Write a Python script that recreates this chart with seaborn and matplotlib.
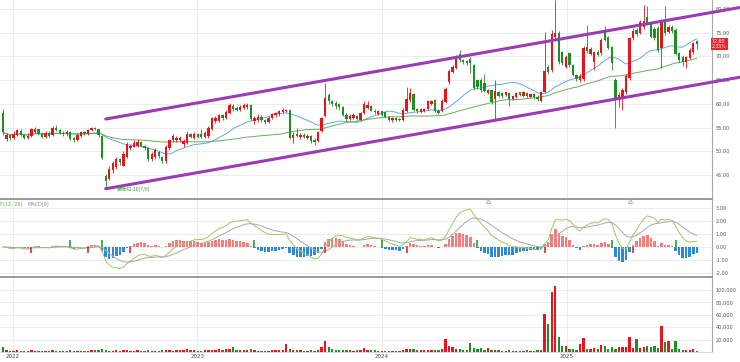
import matplotlib
matplotlib.use("Agg")
import matplotlib.pyplot as plt
import matplotlib.dates as mdates
import matplotlib.ticker as mticker
import matplotlib.transforms as mtransforms
import numpy as np
import pandas as pd
import seaborn as sns

# weekly candles, first week starts Monday 2021-12-13
first_week = "2021-12-13"

opens = [
    58.0, 52.6, 53.4, 52.8, 53.4, 54.2, 53.4, 52.9, 53.2, 54.0,
    54.6, 53.6, 53.0, 53.9, 53.4, 55.0, 54.4, 53.8, 53.6, 54.0,
    52.8, 52.4, 53.3, 54.0, 53.6, 54.4, 55.0, 54.7, 53.2, 44.8,
    44.2, 46.0, 46.6, 48.3, 47.0, 48.8, 50.6, 51.0, 51.2, 51.9,
    51.2, 50.6, 48.4, 48.8, 49.8, 48.8, 47.9, 50.6, 52.4, 52.3,
    52.4, 51.5, 51.8, 53.6, 52.8, 53.6, 53.6, 53.0, 53.2, 54.8,
    56.4, 56.4, 57.6, 57.0, 58.0, 59.6, 59.2, 58.8, 59.2, 59.3,
    59.8, 56.4, 56.6, 57.3, 56.6, 56.2, 57.0, 57.6, 57.8, 58.2,
    58.4, 58.8, 52.8, 53.6, 53.0, 53.4, 52.9, 53.2, 52.4, 52.2,
    54.2, 57.4, 61.9, 60.6, 60.2, 59.9, 59.3, 57.7, 56.8, 57.0,
    57.4, 56.6, 58.0, 59.2, 59.6, 58.6, 57.8, 58.4, 58.2, 57.2,
    56.5, 57.0, 56.8, 56.6, 58.4, 60.8, 62.0, 58.9, 58.3, 58.4,
    59.0, 60.0, 60.8, 58.6, 58.4, 60.4, 64.6, 66.8, 67.6, 70.6,
    69.2, 69.0, 69.4, 68.2, 65.0, 65.0, 64.4, 62.3, 62.9, 61.0,
    62.5, 62.2, 61.8, 62.2, 61.0, 61.4, 62.4, 61.7, 62.2, 61.5,
    62.0, 61.5, 60.6, 62.4, 67.8, 67.2, 74.0, 74.9, 70.9, 67.8,
    70.7, 68.2, 66.1, 65.0, 65.2, 71.9, 70.6, 68.8, 70.9, 70.7,
    75.2, 74.1, 72.0, 65.0, 61.2, 61.0, 62.4, 65.4, 73.8, 75.6,
    75.0, 76.2, 78.3, 77.0, 75.8, 76.0, 71.8, 77.7, 75.2, 76.2,
    75.6, 70.7, 69.9, 68.8, 69.7, 70.9, 73.2,
]
closes = [
    54.0, 53.4, 52.8, 53.6, 54.4, 53.4, 52.9, 53.3, 54.6, 54.8,
    53.6, 53.1, 53.9, 53.3, 55.0, 54.4, 53.8, 53.6, 54.0, 52.6,
    52.4, 53.4, 54.0, 53.6, 54.4, 54.9, 54.7, 53.4, 48.6, 43.8,
    46.3, 47.6, 48.3, 47.8, 49.5, 51.6, 51.2, 51.8, 51.9, 51.2,
    50.6, 48.4, 49.4, 50.3, 49.0, 48.0, 51.0, 52.4, 53.2, 52.9,
    52.8, 52.2, 53.6, 53.0, 53.6, 53.0, 53.0, 53.8, 55.0, 57.0,
    57.0, 57.6, 57.0, 58.3, 59.8, 59.0, 58.8, 59.4, 59.8, 59.8,
    56.8, 57.0, 57.3, 56.6, 56.2, 57.1, 57.8, 58.0, 58.4, 58.8,
    58.8, 52.8, 53.4, 53.2, 53.4, 53.0, 53.3, 52.2, 52.0, 54.0,
    57.0, 61.2, 60.6, 60.0, 59.6, 59.3, 57.7, 56.8, 57.4, 57.6,
    56.8, 58.1, 60.0, 59.8, 58.6, 58.2, 58.4, 57.7, 57.2, 56.6,
    57.0, 56.7, 56.6, 58.8, 61.0, 62.2, 58.8, 58.5, 58.9, 58.9,
    60.5, 60.6, 58.4, 58.0, 60.6, 63.2, 67.0, 67.8, 70.0, 69.2,
    68.8, 68.6, 68.6, 63.3, 63.6, 63.0, 62.8, 62.9, 60.4, 62.7,
    61.7, 61.6, 62.4, 61.0, 61.6, 62.3, 61.8, 62.4, 61.6, 62.0,
    61.4, 61.0, 62.4, 67.0, 66.8, 74.8, 74.9, 68.8, 68.6, 69.9,
    68.2, 66.1, 65.2, 65.8, 71.8, 71.2, 71.6, 70.9, 70.4, 73.5,
    73.5, 71.8, 68.6, 61.2, 61.9, 63.0, 65.9, 73.8, 75.4, 74.8,
    77.2, 77.4, 77.0, 74.1, 73.8, 71.4, 77.4, 75.0, 76.2, 75.4,
    70.6, 69.2, 68.8, 69.8, 71.4, 72.8, 72.6,
]
highs = [
    59.0, 53.8, 53.6, 54.2, 54.8, 54.6, 53.6, 53.8, 55.0, 55.2,
    54.8, 54.0, 54.2, 54.2, 55.4, 55.6, 54.8, 54.2, 54.4, 54.2,
    53.0, 53.8, 54.3, 54.3, 54.7, 55.1, 55.2, 54.8, 53.4, 45.2,
    46.8, 48.0, 48.8, 48.6, 50.0, 51.9, 51.6, 52.3, 52.6, 52.2,
    51.4, 50.8, 49.8, 50.6, 50.0, 49.0, 51.4, 52.6, 53.6, 53.3,
    53.2, 52.6, 54.3, 53.8, 54.0, 53.8, 54.6, 54.2, 55.4, 57.3,
    57.4, 57.9, 57.9, 58.8, 60.2, 60.0, 59.5, 59.7, 60.1, 60.1,
    60.0, 57.4, 57.8, 57.6, 56.9, 57.5, 58.1, 58.3, 58.7, 59.1,
    59.0, 59.0, 54.0, 55.0, 53.8, 53.8, 53.6, 53.4, 52.8, 54.3,
    57.3, 64.4, 62.3, 60.9, 60.5, 60.2, 59.5, 58.0, 57.8, 58.0,
    57.6, 58.3, 60.5, 60.6, 59.8, 58.9, 58.8, 58.6, 58.4, 57.4,
    57.3, 57.2, 57.0, 59.2, 63.6, 63.4, 62.3, 59.2, 59.2, 59.2,
    60.8, 60.9, 61.0, 59.0, 61.0, 63.6, 67.4, 68.2, 70.4, 71.4,
    69.5, 69.3, 69.8, 68.4, 65.3, 65.4, 66.4, 63.2, 63.0, 65.0,
    62.8, 62.5, 62.6, 62.4, 61.9, 62.6, 62.6, 62.8, 62.4, 62.3,
    62.2, 61.8, 62.8, 75.2, 68.2, 75.5, 82.0, 75.4, 71.2, 70.4,
    71.0, 68.5, 66.4, 66.2, 72.2, 76.6, 71.9, 71.2, 71.3, 73.8,
    76.4, 74.4, 72.3, 65.4, 62.4, 63.4, 66.2, 74.2, 76.0, 76.0,
    77.6, 80.8, 80.6, 77.3, 76.2, 76.4, 77.8, 80.6, 76.6, 76.6,
    76.0, 71.0, 70.2, 70.1, 71.7, 73.1, 73.5,
]
lows = [
    53.5, 52.2, 52.4, 52.6, 53.2, 53.2, 52.6, 52.6, 53.0, 53.8,
    53.4, 52.8, 52.8, 53.1, 53.2, 54.2, 53.6, 53.3, 53.3, 52.3,
    52.0, 52.2, 53.1, 53.4, 53.5, 54.2, 54.5, 53.0, 48.4, 42.1,
    44.0, 45.5, 46.3, 47.2, 46.8, 48.6, 50.2, 50.8, 51.0, 50.9,
    50.2, 48.0, 48.0, 48.4, 48.6, 47.6, 47.6, 50.2, 52.0, 52.0,
    52.0, 51.0, 51.6, 52.7, 52.6, 52.8, 52.8, 52.8, 52.8, 54.5,
    56.0, 56.2, 56.7, 56.8, 57.8, 58.6, 58.4, 58.5, 59.0, 59.0,
    56.5, 55.8, 56.2, 56.2, 55.8, 56.0, 56.8, 57.3, 57.5, 58.0,
    58.2, 52.6, 51.8, 53.0, 52.6, 52.8, 52.6, 51.8, 51.4, 52.0,
    54.0, 57.2, 60.0, 59.6, 59.0, 58.8, 57.4, 56.4, 56.5, 56.8,
    56.5, 56.3, 57.8, 59.0, 58.4, 57.8, 57.6, 57.4, 57.0, 56.3,
    56.2, 56.4, 56.4, 56.4, 58.2, 60.4, 58.5, 58.0, 58.0, 58.2,
    58.8, 59.8, 58.2, 57.8, 58.2, 60.2, 64.2, 66.5, 67.3, 68.9,
    68.3, 68.2, 66.5, 63.0, 63.2, 62.6, 62.4, 62.0, 60.0, 56.6,
    61.4, 61.3, 61.6, 59.6, 60.8, 61.2, 61.6, 61.5, 61.3, 61.3,
    61.0, 60.6, 60.3, 62.2, 66.3, 66.8, 73.5, 68.4, 68.2, 67.5,
    67.8, 65.8, 64.8, 64.6, 64.8, 70.8, 70.3, 67.1, 70.0, 70.4,
    73.2, 71.5, 67.1, 54.9, 59.3, 58.8, 62.0, 65.0, 73.5, 74.3,
    74.8, 75.8, 76.6, 73.8, 73.4, 71.0, 67.6, 74.6, 74.9, 75.0,
    70.2, 68.8, 68.0, 67.6, 69.4, 70.5, 71.6,
]
# volume in thousands of shares
vol_k = [
    8.0, 2.5, 2.0, 2.2, 2.8, 2.4, 2.0, 1.8, 2.6, 2.2,
    2.0, 1.8, 2.4, 2.0, 2.8, 2.2, 2.0, 1.8, 2.2, 2.6,
    2.0, 2.4, 2.2, 2.0, 2.4, 2.6, 3.0, 3.8, 4.2, 3.0,
    2.4, 2.2, 2.6, 2.0, 2.8, 3.2, 2.4, 2.2, 2.6, 2.0,
    2.2, 2.8, 2.4, 2.0, 1.8, 3.4, 3.0, 2.8, 2.4, 2.6,
    3.0, 3.6, 5.4, 3.0, 2.6, 2.2, 2.4, 3.2, 4.0, 3.6,
    3.0, 4.2, 3.4, 4.4, 5.0, 7.6, 4.0, 3.0, 2.6, 2.8,
    4.2, 3.0, 2.4, 2.2, 2.0, 2.4, 2.6, 2.8, 3.0, 3.4,
    12.5, 4.6, 4.0, 3.4, 3.0, 2.4, 2.2, 2.6, 2.4, 3.6,
    8.0, 17.0, 8.6, 4.4, 4.0, 3.4, 3.0, 3.2, 2.6, 2.4,
    2.8, 3.6, 6.6, 3.6, 3.0, 2.6, 2.4, 2.2, 2.0, 2.2,
    2.4, 2.0, 1.8, 4.0, 5.6, 4.6, 4.2, 3.6, 3.4, 3.0,
    3.2, 3.8, 3.4, 3.0, 4.2, 21.5, 9.8, 8.0, 5.6, 4.6,
    4.0, 3.6, 14.6, 6.0, 4.4, 6.5, 3.6, 7.0, 3.6, 4.0,
    2.6, 2.4, 2.2, 2.8, 2.0, 2.4, 2.2, 2.0, 2.6, 2.4,
    2.2, 3.0, 4.0, 60.7, 45.5, 96.5, 105.7, 24.4, 9.8, 9.6,
    5.4, 4.4, 4.0, 13.5, 23.3, 5.4, 5.0, 6.0, 5.4, 10.8,
    9.8, 5.4, 8.0, 5.4, 8.0, 8.4, 8.0, 24.4, 6.0, 20.6,
    6.6, 8.0, 9.6, 8.0, 9.0, 6.4, 41.7, 16.3, 17.9, 5.4,
    17.9, 5.4, 4.0, 3.6, 3.0, 5.4, 2.0,
]

# trend channel drawn on the chart
chan_dates = ["2022-07-04", "2025-12-08"]
chan_upper = [56.8, 80.3]
chan_lower = [42.1, 65.6]
low_note = "最低42.10(7/8)"
last_price = "72.60"
last_change = "2.35%"
marker_dates = ["2024-07-29", "2025-05-05"]

n = len(closes)
for name, arr in [("opens", opens), ("highs", highs), ("lows", lows), ("vol", vol_k)]:
    if len(arr) != n:
        raise SystemExit(f"{name} has {len(arr)} values, closes has {n}")

df = pd.DataFrame({
    "date": pd.date_range(first_week, periods=n, freq="W-MON"),
    "open": opens, "high": highs, "low": lows, "close": closes,
})
df["volume"] = np.array(vol_k) * 1000
df["ma20"] = df["close"].rolling(20, min_periods=1).mean()
df["ma52"] = df["close"].rolling(52, min_periods=1).mean()
ema12 = df["close"].ewm(span=12, adjust=False).mean()
ema26 = df["close"].ewm(span=26, adjust=False).mean()
df["dif"] = ema12 - ema26
df["dea"] = df["dif"].ewm(span=9, adjust=False).mean()
df["hist"] = df["dif"] - df["dea"]

RED = "#e8141c"
GREEN = "#1f8f23"
PURPLE = "#9a3cb4"
GRID = "#e9e9e9"
AXIS = "#a8a8a8"

sns.set_theme(style="white")
plt.rcParams["font.family"] = ["DejaVu Sans", "Noto Sans CJK SC"]

fig = plt.figure(figsize=(7.4, 3.62), dpi=100)
W = 712 / 740
H = 362
ax = fig.add_axes([0, 1 - 199 / H, W, 199 / H])
ax_m = fig.add_axes([0, 1 - 276 / H, W, 77 / H], sharex=ax)
ax_v = fig.add_axes([0, 1 - 352 / H, W, 75 / H], sharex=ax)

up = df["close"] >= df["open"]
colors = np.where(up, RED, GREEN)

# candles
ax.vlines(df["date"], df["low"], df["high"], colors=colors, lw=0.6, zorder=3)
body = (df["close"] - df["open"]).abs().clip(lower=0.15)
ax.bar(df["date"], body, bottom=np.minimum(df["open"], df["close"]),
       width=4.6, color=colors, linewidth=0, zorder=4)

sns.lineplot(data=df, x="date", y="ma20", ax=ax, color="#62a9e2", lw=0.7, zorder=2)
sns.lineplot(data=df, x="date", y="ma52", ax=ax, color="#67ae5c", lw=0.7, zorder=2)

cd = pd.to_datetime(chan_dates)
ax.plot(cd, chan_upper, color=PURPLE, lw=2.2, clip_on=False, zorder=5)
ax.plot(cd, chan_lower, color=PURPLE, lw=2.2, clip_on=False, zorder=5)

ax.text(pd.Timestamp("2022-07-25"), 42.05, low_note, color="#3a9a3a", fontsize=3.6,
        va="center", ha="left", family=["Noto Sans CJK SC", "DejaVu Sans"], zorder=6)

trans = mtransforms.blended_transform_factory(ax.transAxes, ax.transData)
ax.text(1.0, 72.6, last_price + "\n" + last_change, transform=trans, fontsize=3.3,
        color="white", va="center", ha="left", linespacing=1.1,
        bbox=dict(boxstyle="square,pad=0.2", fc="#e8262b", ec="none"), clip_on=False)

ax.set_ylim(39.94, 81.9)
ax.set_yticks(np.arange(45, 81, 5))
ax.yaxis.set_major_formatter(mticker.FormatStrFormatter("%.2f"))

# MACD
hist_colors = np.where(df["hist"] >= 0, "#f47e7e", "#2e8ad8")
ax_m.bar(df["date"], df["hist"], width=5.0, color=hist_colors, linewidth=0, zorder=2)
sns.lineplot(data=df, x="date", y="dif", ax=ax_m, color="#9dc95f", lw=0.7, zorder=3)
sns.lineplot(data=df, x="date", y="dea", ax=ax_m, color="#a9a9a9", lw=0.7, zorder=3)

# mark only the crosses that hold for a few weeks on both sides
sign = np.sign(df["hist"].values)
golden, death = [], []
for i in range(3, n - 2):
    before = sign[i - 3:i]
    after = sign[i:i + 3]
    if (before < 0).all() and (after > 0).all():
        golden.append(df["date"].iloc[i])
    elif (before > 0).all() and (after < 0).all():
        death.append(df["date"].iloc[i])
ax_m.vlines(golden, -0.5, 0, color=RED, lw=1.1, zorder=4)
ax_m.vlines(death, 0, 0.5, color=GREEN, lw=1.1, zorder=4)

ax_m.plot(pd.to_datetime(marker_dates), [3.55, 3.55], marker="^", ls="none", ms=3,
          mfc="none", mec="#7fb8e0", mew=0.6, clip_on=False, zorder=6)
ax_m.set_ylim(-2.26, 3.7)
ax_m.set_yticks(np.arange(-2, 3.1, 1))
ax_m.yaxis.set_major_formatter(mticker.FormatStrFormatter("%.2f"))
fig.text(0.0, 1 - 204.5 / H, "F(12, 26)", color="#6aa84f", fontsize=3.6, va="center")
fig.text(27 / 740, 1 - 204.5 / H, "MACD(9)", color="#8a8a8a", fontsize=3.6, va="center")

# volume
ax_v.bar(df["date"], df["volume"], width=4.6, color=colors, linewidth=0, zorder=2)
ax_v.set_ylim(0, 121000)
ax_v.set_yticks(np.arange(20000, 100001, 20000))
ax_v.yaxis.set_major_formatter(mticker.StrMethodFormatter("{x:,.0f}"))

ax.set_xlim(pd.Timestamp("2021-12-07"), pd.Timestamp("2025-10-15"))
ax_v.xaxis.set_major_locator(mdates.YearLocator())
ax_v.xaxis.set_major_formatter(mdates.DateFormatter("%Y"))

for a in (ax, ax_m, ax_v):
    a.set_xlabel("")
    a.set_ylabel("")
    a.yaxis.tick_right()
    a.tick_params(axis="y", labelsize=3.6, labelcolor="#555555", length=0, pad=2.5)
    a.grid(True, color=GRID, lw=0.6)
    a.set_axisbelow(True)
    for s in ("left", "top", "bottom"):
        a.spines[s].set_visible(False)
    a.spines["right"].set_color(AXIS)
    a.spines["right"].set_linewidth(0.8)
    a.set_facecolor("white")

for a in (ax_m, ax_v):
    a.spines["top"].set_visible(True)
    a.spines["top"].set_color("#9a9a9a")
    a.spines["top"].set_linewidth(1.4)

ax_v.spines["bottom"].set_visible(True)
ax_v.spines["bottom"].set_color("#cfcfcf")
ax_v.spines["bottom"].set_linewidth(0.6)

plt.setp(ax.get_xticklabels(), visible=False)
plt.setp(ax_m.get_xticklabels(), visible=False)
ax.tick_params(axis="x", length=0)
ax_m.tick_params(axis="x", length=0)
ax_v.tick_params(axis="x", labelsize=4, labelcolor="#444444", length=0, pad=1.5)

fig.savefig("out.png", dpi=100)
